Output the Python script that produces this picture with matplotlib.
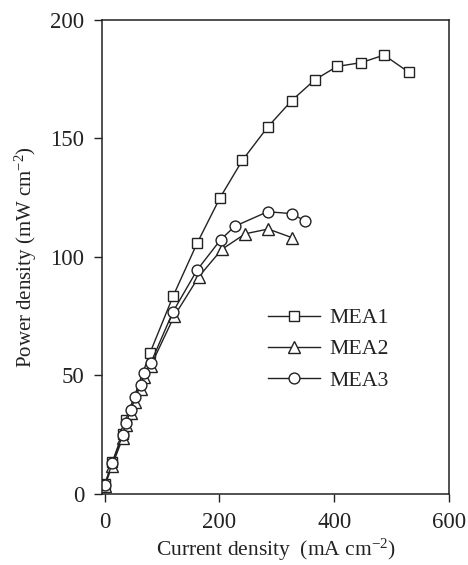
import matplotlib
matplotlib.use("Agg")
import matplotlib.pyplot as plt

plt.rcParams['font.family'] = ['Liberation Serif', 'DejaVu Serif']
plt.rcParams['mathtext.fontset'] = 'custom'
plt.rcParams['mathtext.rm'] = 'Liberation Serif'
plt.rcParams['mathtext.it'] = 'Liberation Serif:italic'

# Data
mea1_x = [0, 13, 31, 37, 79, 119, 161, 201, 240, 284, 326, 366, 405, 447, 487, 530]
mea1_y = [4, 13.4, 25.5, 31.4, 59.6, 83.4, 105.8, 125, 140.8, 154.8, 166, 174.7, 180.4, 182, 185.2, 178]

mea2_x = [0, 13, 31, 37, 46, 53, 63, 69, 80, 121, 164, 204, 245, 285, 326]
mea2_y = [3.5, 12, 23.5, 29, 34, 39, 44.5, 49.5, 54, 75, 91.7, 103.2, 109.8, 111.8, 108.2]

mea3_x = [0, 13, 31, 37, 46, 53, 63, 69, 80, 119, 161, 202, 227, 284, 326, 349]
mea3_y = [3.9, 13, 24.7, 30, 35.5, 40.9, 46, 50.9, 55.2, 76.9, 94.5, 107.3, 113, 119.1, 118.3, 115.2]

labels = ["MEA1", "MEA2", "MEA3"]
xticks = [0, 200, 400, 600]
yticks = [0, 50, 100, 150, 200]

fig = plt.figure(figsize=(4.68, 5.65), dpi=100)
ax = fig.add_axes([0.219, 0.1257, 0.74, 0.8389])

common = dict(color='#222222', lw=1.0, mfc='white', mec='#222222', mew=1.0)
ax.plot(mea1_x, mea1_y, marker='s', ms=7.3, label=labels[0], **common)
ax.plot(mea2_x, mea2_y, marker='^', ms=8.3, label=labels[1], **common)
ax.plot(mea3_x, mea3_y, marker='o', ms=7.8, label=labels[2], **common)

ax.set_xlim(-4, 600)
ax.set_ylim(0, 200)
ax.set_xticks(xticks)
ax.set_yticks(yticks)
ax.tick_params(axis='both', direction='out', length=6, width=1, labelsize=16.5,
               top=False, right=False, colors='#222222')
ax.tick_params(axis='x', pad=7)
ax.tick_params(axis='y', pad=7)
for s in ax.spines.values():
    s.set_linewidth(1.1)
    s.set_color('#222222')

ax.set_xlabel(r'Current density  (mA cm$^{-2}$)', fontsize=15.5, color='#222222', labelpad=3)
ax.set_ylabel(r'Power density (mW cm$^{-2}$)', fontsize=15, color='#222222', labelpad=8)

leg = fig.legend(loc='upper left', bbox_to_anchor=(0.573, 0.455), frameon=False,
                 fontsize=15.7, handlelength=2.4, handletextpad=0.4,
                 labelspacing=0.5, borderpad=0, borderaxespad=0)
for t in leg.get_texts():
    t.set_color('#222222')

fig.savefig('out.png', dpi=100)
